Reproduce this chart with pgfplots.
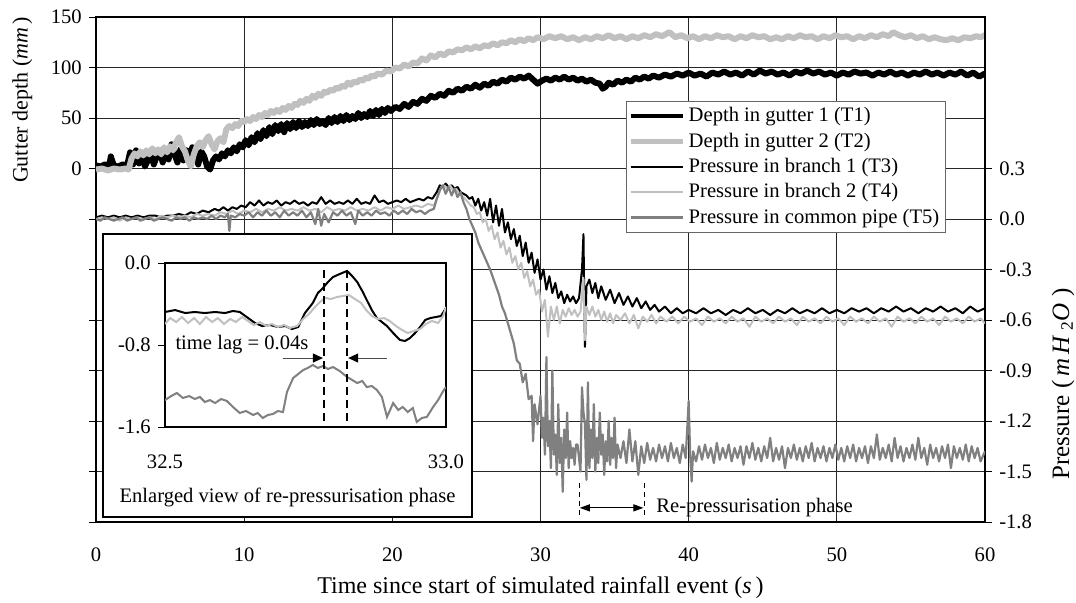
\documentclass[border=0pt]{standalone}
\usepackage{fontspec}
\setmainfont{Liberation Serif}
\usepackage{pgfplots}
\pgfplotsset{compat=1.18}
\usetikzlibrary{arrows.meta}
\definecolor{lgray}{RGB}{192,192,192}
\definecolor{mgray}{RGB}{128,128,128}
\begin{document}
\fontsize{10.3}{12.4}\selectfont
\begin{tikzpicture}[font=\fontsize{10.3}{12.4}\selectfont]
\path[use as bounding box] (-48pt,-40pt) rectangle (490pt,261pt);
% ---------- left axis: gutter depth ----------
\begin{axis}[
  at={(0,0)}, anchor=south west, scale only axis, width=444.5pt, height=252.5pt,
  xmin=0, xmax=60, ymin=-350, ymax=150,
  xtick={0,10,20,30,40,50,60}, xticklabels={0,10,20,30,40,50,60},
  ytick={-350,-300,-250,-200,-150,-100,-50,0,50,100,150},
  yticklabels={,,,,,,,0,50,100,150},
  ytick pos=left, tick align=outside, major tick length=3.5pt,
  xtick style={draw=none}, ytick style={black, line width=0.5pt},
  grid=major, major grid style={black!85, line width=0.5pt},
  axis line style={line width=1pt},
  xticklabel style={yshift=-6pt},
  xlabel={Time since start of simulated rainfall event (\textit{s}\,)},
  ylabel={Gutter depth (\textit{mm}\,)},
  every axis x label/.style={at={(axis description cs:0.5,0)}, yshift=-33pt, anchor=center, font=\fontsize{12}{14}\selectfont},
  every axis y label/.style={at={(axis description cs:-0.083,0.836)}, rotate=90, anchor=center, font=\fontsize{11}{13}\selectfont},
]
\addplot[black, line width=3pt, line join=round] coordinates {
(0,3) (0.3,2) (0.6,4) (0.9,3) (1.0,12) (1.2,3) (1.5,2) (1.8,4) (2.1,3) (2.3,16) (2.5,4) (2.7,18) (2.9,5) (3.1,14) (3.3,2) (3.5,8) (3.7,15) (3.9,4) (4.1,12) (4.3,18) (4.5,6) (4.7,16) (4.9,9) (5.1,24) (5.3,14) (5.5,6) (5.7,19) (5.9,8) (6.1,18) (6.3,10) (6.5,21) (6.7,14) (6.9,4) (7.1,17) (7.3,12) (7.5,2) (7.7,-1) (7.9,8) (8.1,12) (8.3,9) (8.5,15) (8.7,12) (8.9,18) (9.1,15) (9.3,21) (9.5,17) (9.7,24) (9.9,21) (10.1,28) (10.3,23) (10.5,31) (10.7,26) (10.9,35) (11.1,29) (11.3,38) (11.5,32) (11.7,41) (11.9,34) (12.1,43) (12.3,37) (12.5,44) (12.7,36) (12.9,45) (13.1,39) (13.3,46) (13.5,40) (13.7,47) (13.9,41) (14.1,46) (14.3,42) (14.5,48) (14.7,43) (14.9,49) (15.1,44) (15.3,47) (15.5,43) (15.7,50) (15.9,45) (16.1,51) (16.3,46) (16.5,52) (16.7,47) (16.9,53) (17.1,48) (17.3,52) (17.5,49) (17.7,55) (17.9,50) (18.1,54) (18.3,51) (18.5,57) (18.7,52) (18.9,58) (19.1,53) (19.3,59) (19.5,55) (19.7,60) (19.9,57) (20.2,61) (20.5,59) (20.8,64) (21.1,61) (21.4,66) (21.7,64) (22.0,69) (22.3,67) (22.6,72) (22.9,70) (23.2,74) (23.5,72) (23.8,77) (24.1,75) (24.4,79) (24.7,77) (25.0,81) (25.3,79) (25.6,83) (25.9,80) (26.2,84) (26.5,82) (26.8,86) (27.1,84) (27.4,88) (27.7,86) (28.0,90) (28.3,88) (28.6,91) (28.9,89) (29.2,92) (29.5,88) (29.8,84) (30.1,87) (30.4,89) (30.7,87) (31.0,90) (31.3,88) (31.6,91) (31.9,88) (32.2,90) (32.5,87) (32.8,89) (33.1,86) (33.4,88) (33.7,85) (34.0,84) (34.2,79) (34.4,81) (34.6,85) (34.9,83) (35.2,87) (35.5,85) (35.8,88) (36.1,86) (36.4,90) (36.7,88) (37.0,91) (37.3,89) (37.6,92) (38.0,90) (38.4,93) (38.8,91) (39.2,94) (39.6,92) (40.0,95) (40.4,92) (40.8,94) (41.2,91) (41.6,95) (42.0,93) (42.4,96) (42.8,93) (43.2,95) (43.6,92) (44.0,96) (44.4,93) (44.8,97) (45.2,94) (45.6,96) (46.0,93) (46.4,95) (46.8,92) (47.2,96) (47.6,94) (48.0,97) (48.4,94) (48.8,96) (49.2,93) (49.6,95) (50.0,92) (50.4,95) (50.8,93) (51.2,96) (51.6,94) (52.0,95) (52.4,92) (52.8,95) (53.2,93) (53.6,96) (54.0,93) (54.4,95) (54.8,92) (55.2,95) (55.6,93) (56.0,96) (56.4,93) (56.8,95) (57.2,92) (57.6,95) (58.0,93) (58.4,96) (58.8,92) (59.2,95) (59.6,91) (60,94)
};
\addplot[lgray, line width=3pt, line join=round] coordinates {
(0,-1) (0.4,0) (0.8,-2) (1.2,0) (1.6,-1) (2.0,0) (2.2,-1) (2.4,10) (2.6,15) (2.8,12) (3.0,17) (3.2,13) (3.4,18) (3.6,14) (3.8,20) (4.0,15) (4.2,19) (4.4,14) (4.6,21) (4.8,16) (5.0,22) (5.2,18) (5.4,26) (5.6,31) (5.8,22) (6.0,17) (6.2,8) (6.4,2) (6.6,14) (6.8,22) (7.0,26) (7.2,21) (7.4,28) (7.6,32) (7.8,24) (8.0,19) (8.2,27) (8.4,30) (8.6,26) (8.8,39) (9.0,42) (9.2,40) (9.4,44) (9.6,42) (9.8,47) (10.0,46) (10.2,49) (10.4,47) (10.6,51) (10.8,49) (11.0,53) (11.2,51) (11.4,55) (11.6,53) (11.8,57) (12.0,55) (12.2,58) (12.4,56) (12.6,60) (12.8,58) (13.0,62) (13.2,60) (13.4,64) (13.6,63) (13.8,67) (14.0,65) (14.2,69) (14.4,67) (14.6,72) (14.8,70) (15.0,74) (15.2,72) (15.4,76) (15.6,75) (15.8,78) (16.0,77) (16.2,80) (16.4,79) (16.6,82) (16.8,81) (17.0,85) (17.2,83) (17.4,86) (17.6,85) (17.8,88) (18.0,87) (18.2,90) (18.4,89) (18.6,92) (18.8,91) (19.0,94) (19.3,93) (19.6,97) (19.9,96) (20.2,100) (20.5,99) (20.8,103) (21.1,101) (21.4,105) (21.7,104) (22.0,109) (22.3,107) (22.6,112) (22.9,110) (23.2,114) (23.5,112) (23.8,116) (24.1,115) (24.4,118) (24.7,117) (25.0,120) (25.3,118) (25.6,121) (25.9,119) (26.2,122) (26.5,121) (26.8,124) (27.1,122) (27.4,125) (27.7,124) (28.0,127) (28.3,125) (28.6,128) (28.9,126) (29.2,129) (29.5,127) (29.8,130) (30.2,128) (30.6,131) (31.0,129) (31.4,131) (31.8,128) (32.2,130) (32.6,127) (33.0,130) (33.4,128) (33.8,131) (34.2,129) (34.6,132) (35.0,129) (35.4,131) (35.8,128) (36.2,131) (36.6,129) (37.0,132) (37.4,130) (37.8,133) (38.2,131) (38.7,135) (39.1,130) (39.5,132) (39.9,129) (40.3,131) (40.7,128) (41.1,131) (41.5,129) (41.9,132) (42.3,130) (42.7,131) (43.1,128) (43.5,131) (43.9,129) (44.3,132) (44.7,130) (45.1,131) (45.5,128) (45.9,130) (46.3,128) (46.7,131) (47.1,129) (47.5,132) (47.9,130) (48.3,131) (48.7,128) (49.1,131) (49.5,129) (49.9,132) (50.3,130) (50.7,131) (51.1,128) (51.5,131) (51.9,129) (52.3,132) (52.7,130) (53.1,133) (53.5,131) (53.8,135) (54.2,132) (54.6,130) (55.0,132) (55.4,129) (55.8,131) (56.2,128) (56.6,130) (57.0,128) (57.4,127) (57.8,129) (58.2,127) (58.6,130) (59.0,129) (59.4,131) (59.7,130) (60,132)
};
\end{axis}
% ---------- right axis: pressure ----------
\begin{axis}[
  at={(0,0)}, anchor=south west, scale only axis, width=444.5pt, height=252.5pt,
  xmin=0, xmax=60, ymin=-1.8, ymax=1.2,
  axis x line=none, axis y line*=right,
  ytick={-1.8,-1.5,-1.2,-0.9,-0.6,-0.3,0,0.3},
  yticklabels={-1.8,-1.5,-1.2,-0.9,-0.6,-0.3,0.0,0.3},
  tick align=outside, major tick length=3.5pt, ytick style={black, line width=0.5pt},
  axis line style={line width=1pt},
  ylabel={Pressure (\,\textit{m}\,\textit{H}\,\textsubscript{2}\textit{O}\ )},
  every axis y label/.style={at={(axis description cs:1.088,0.273)}, rotate=90, anchor=center, font=\fontsize{12.5}{15}\selectfont},
  legend style={at={(axis description cs:0.596,0.834)}, anchor=north west, draw=black!60,
    line width=0.5pt, fill=white, inner xsep=1pt, inner ysep=1pt, row sep=0pt,
    cells={anchor=west}, font=\fontsize{10.3}{12.4}\selectfont},
  legend image code/.code={\draw[#1] (0pt,0pt) -- (26pt,0pt);},
]
\addlegendimage{black, line width=2pt}
\addlegendentry{Depth in gutter 1 (T1)}
\addlegendimage{lgray, line width=2.2pt}
\addlegendentry{Depth in gutter 2 (T2)}
\addplot[black, line width=1pt, line join=round] coordinates {
(0,0.01) (0.4,0.02) (0.8,0.01) (1.2,0.02) (1.6,0.01) (2.0,0.02) (2.4,0.01) (2.8,0.02) (3.2,0.01) (3.6,0.02) (4.0,0.02) (4.4,0.01) (4.8,0.02) (5.2,0.02) (5.6,0.03) (6.0,0.02) (6.4,0.04) (6.8,0.03) (7.2,0.05) (7.6,0.04) (8.0,0.06) (8.3,0.05) (8.6,0.07) (8.9,0.05) (9.2,0.07) (9.5,0.06) (9.8,0.08) (10.1,0.07) (10.4,0.10) (10.7,0.08) (11.0,0.11) (11.3,0.08) (11.6,0.10) (11.9,0.09) (12.2,0.11) (12.5,0.08) (12.8,0.10) (13.1,0.09) (13.4,0.11) (13.7,0.09) (14.0,0.10) (14.3,0.08) (14.6,0.10) (14.9,0.09) (15.2,0.13) (15.5,0.09) (15.8,0.11) (16.1,0.09) (16.4,0.10) (16.7,0.09) (17.0,0.11) (17.3,0.09) (17.6,0.12) (17.9,0.09) (18.2,0.10) (18.5,0.09) (18.8,0.14) (19.1,0.10) (19.4,0.11) (19.7,0.09) (20.0,0.10) (20.3,0.11) (20.6,0.10) (20.9,0.12) (21.2,0.10) (21.5,0.11) (21.8,0.12) (22.1,0.11) (22.4,0.13) (22.7,0.12) (23.0,0.16) (23.2,0.20) (23.4,0.19) (23.6,0.21) (23.8,0.19) (24.0,0.20) (24.2,0.18) (24.4,0.19) (24.6,0.16) (24.8,0.15) (25.0,0.14) (25.2,0.12) (25.4,0.13) (25.6,0.08) (25.8,0.12) (26.0,0.05) (26.2,0.10) (26.4,0.02) (26.6,0.12) (26.8,-0.02) (27.0,0.08) (27.2,-0.04) (27.4,0.06) (27.6,-0.08) (27.8,-0.02) (28.0,-0.12) (28.2,-0.06) (28.4,-0.16) (28.6,-0.10) (28.8,-0.22) (29.0,-0.14) (29.2,-0.26) (29.4,-0.20) (29.6,-0.32) (29.8,-0.24) (30.0,-0.36) (30.2,-0.30) (30.4,-0.42) (30.6,-0.34) (30.8,-0.44) (31.0,-0.38) (31.2,-0.47) (31.4,-0.43) (31.6,-0.50) (31.8,-0.45) (32.0,-0.49) (32.2,-0.46) (32.4,-0.50) (32.6,-0.47) (32.8,-0.30) (32.9,-0.09) (32.95,-0.45) (33.0,-0.76) (33.1,-0.40) (33.3,-0.36) (33.5,-0.44) (33.7,-0.38) (33.9,-0.47) (34.1,-0.40) (34.4,-0.48) (34.7,-0.42) (35.0,-0.50) (35.3,-0.44) (35.6,-0.51) (35.9,-0.46) (36.2,-0.52) (36.5,-0.47) (36.8,-0.53) (37.1,-0.49) (37.4,-0.54) (37.7,-0.51) (38.0,-0.55) (38.4,-0.52) (38.8,-0.56) (39.2,-0.53) (39.6,-0.56) (40.0,-0.54) (40.5,-0.56) (41.0,-0.53) (41.5,-0.56) (42.0,-0.54) (42.5,-0.57) (43.0,-0.54) (43.5,-0.56) (44.0,-0.53) (44.5,-0.56) (45.0,-0.54) (45.5,-0.57) (46.0,-0.54) (46.5,-0.56) (47.0,-0.53) (47.5,-0.56) (48.0,-0.54) (48.5,-0.56) (49.0,-0.53) (49.5,-0.56) (50.0,-0.54) (50.5,-0.56) (51.0,-0.53) (51.5,-0.55) (52.0,-0.53) (52.5,-0.56) (53.0,-0.53) (53.5,-0.55) (54.0,-0.52) (54.5,-0.55) (55.0,-0.53) (55.5,-0.56) (56.0,-0.53) (56.5,-0.55) (57.0,-0.52) (57.5,-0.55) (58.0,-0.53) (58.5,-0.56) (59.0,-0.52) (59.5,-0.55) (60,-0.53)
};
\addlegendentry{Pressure in branch 1 (T3)}
\addplot[lgray, line width=1pt, line join=round] coordinates {
(0,0.00) (0.4,0.01) (0.8,0.00) (1.2,0.01) (1.6,-0.01) (2.0,0.01) (2.4,0.00) (2.8,0.01) (3.2,0.00) (3.6,0.01) (4.0,0.00) (4.4,0.02) (4.8,0.01) (5.2,0.02) (5.6,0.01) (6.0,0.02) (6.4,0.01) (6.8,0.03) (7.2,0.02) (7.6,0.03) (8.0,0.02) (8.4,0.04) (8.8,0.03) (9.2,0.05) (9.6,0.03) (10.0,0.05) (10.4,0.04) (10.8,0.06) (11.2,0.04) (11.6,0.06) (12.0,0.05) (12.4,0.07) (12.8,0.05) (13.2,0.06) (13.6,0.05) (14.0,0.07) (14.4,0.05) (14.8,0.06) (15.2,0.04) (15.6,0.07) (16.0,0.05) (16.4,0.06) (16.8,0.05) (17.2,0.07) (17.6,0.05) (18.0,0.06) (18.4,0.05) (18.8,0.07) (19.2,0.05) (19.6,0.07) (20.0,0.06) (20.4,0.08) (20.8,0.06) (21.2,0.07) (21.6,0.08) (22.0,0.07) (22.4,0.09) (22.8,0.08) (23.1,0.14) (23.3,0.19) (23.5,0.20) (23.7,0.18) (23.9,0.20) (24.1,0.17) (24.3,0.18) (24.5,0.15) (24.7,0.14) (24.9,0.12) (25.1,0.10) (25.3,0.08) (25.5,0.07) (25.7,0.03) (25.9,0.04) (26.1,-0.02) (26.3,0.00) (26.5,-0.07) (26.7,-0.04) (26.9,-0.12) (27.1,-0.08) (27.3,-0.17) (27.5,-0.13) (27.7,-0.21) (27.9,-0.17) (28.1,-0.26) (28.3,-0.22) (28.5,-0.30) (28.7,-0.26) (28.9,-0.35) (29.1,-0.31) (29.3,-0.40) (29.5,-0.36) (29.7,-0.45) (29.9,-0.42) (30.1,-0.55) (30.3,-0.48) (30.5,-0.70) (30.7,-0.52) (30.9,-0.60) (31.1,-0.52) (31.3,-0.62) (31.5,-0.54) (31.7,-0.58) (31.9,-0.53) (32.1,-0.57) (32.3,-0.54) (32.5,-0.58) (32.7,-0.55) (32.85,-0.40) (32.9,-0.35) (32.95,-0.55) (33.0,-0.72) (33.1,-0.52) (33.3,-0.57) (33.5,-0.52) (33.7,-0.58) (33.9,-0.54) (34.1,-0.60) (34.3,-0.55) (34.5,-0.61) (34.7,-0.56) (34.9,-0.62) (35.1,-0.57) (35.4,-0.60) (35.7,-0.56) (36.0,-0.62) (36.3,-0.57) (36.6,-0.65) (36.9,-0.58) (37.2,-0.61) (37.5,-0.57) (37.8,-0.62) (38.1,-0.58) (38.5,-0.61) (38.9,-0.58) (39.3,-0.62) (39.7,-0.58) (40.1,-0.61) (40.5,-0.59) (40.9,-0.63) (41.3,-0.58) (41.7,-0.61) (42.1,-0.59) (42.5,-0.62) (42.9,-0.58) (43.3,-0.61) (43.7,-0.59) (44.1,-0.64) (44.5,-0.58) (44.9,-0.61) (45.3,-0.59) (45.7,-0.62) (46.1,-0.58) (46.5,-0.61) (46.9,-0.59) (47.3,-0.63) (47.7,-0.58) (48.1,-0.61) (48.5,-0.59) (48.9,-0.62) (49.3,-0.58) (49.7,-0.61) (50.1,-0.59) (50.5,-0.63) (50.9,-0.58) (51.3,-0.61) (51.7,-0.59) (52.1,-0.62) (52.5,-0.58) (52.9,-0.61) (53.3,-0.59) (53.7,-0.64) (54.1,-0.58) (54.5,-0.61) (54.9,-0.59) (55.3,-0.62) (55.7,-0.58) (56.1,-0.61) (56.5,-0.59) (56.9,-0.63) (57.3,-0.58) (57.7,-0.61) (58.1,-0.59) (58.5,-0.62) (58.9,-0.58) (59.3,-0.61) (59.7,-0.59) (60,-0.62)
};
\addlegendentry{Pressure in branch 2 (T4)}
\addplot[mgray, line width=1.1pt, line join=round] coordinates {
(0,0.00) (0.3,-0.01) (0.6,0.01) (0.9,0.00) (1.2,-0.01) (1.5,0.00) (1.8,0.01) (2.1,-0.01) (2.4,0.00) (2.7,0.01) (3.0,-0.01) (3.3,0.00) (3.6,0.01) (3.9,-0.01) (4.2,0.00) (4.5,0.01) (4.8,0.00) (5.1,-0.01) (5.4,0.01) (5.7,0.00) (6.0,0.01) (6.3,-0.01) (6.6,0.01) (6.9,0.00) (7.2,0.01) (7.5,0.00) (7.8,0.02) (8.1,0.00) (8.4,0.02) (8.7,0.01) (8.9,0.03) (9.0,-0.07) (9.1,0.02) (9.4,0.01) (9.7,0.03) (10.0,0.02) (10.3,0.04) (10.6,0.01) (10.9,0.04) (11.2,0.02) (11.5,0.05) (11.8,0.02) (12.1,0.04) (12.4,0.01) (12.7,0.05) (13.0,0.02) (13.3,0.04) (13.6,0.02) (13.9,0.05) (14.2,0.01) (14.5,0.04) (14.8,-0.03) (15.0,0.06) (15.2,-0.04) (15.4,0.03) (15.7,-0.02) (16.0,0.04) (16.3,0.02) (16.6,0.05) (16.9,0.02) (17.2,0.04) (17.5,-0.03) (17.7,0.05) (18.0,0.02) (18.3,0.04) (18.6,0.02) (18.9,0.05) (19.2,0.03) (19.5,0.04) (19.8,0.02) (20.1,0.05) (20.4,0.03) (20.7,0.05) (21.0,0.03) (21.3,0.06) (21.6,0.04) (21.9,0.05) (22.2,0.03) (22.5,0.05) (22.8,0.06) (23.0,0.12) (23.2,0.17) (23.4,0.20) (23.6,0.15) (23.8,0.19) (24.0,0.14) (24.2,0.18) (24.4,0.13) (24.6,0.16) (24.8,0.10) (25.0,0.06) (25.2,0.00) (25.4,-0.04) (25.6,-0.08) (25.8,-0.14) (26.0,-0.18) (26.2,-0.22) (26.4,-0.26) (26.6,-0.30) (26.8,-0.35) (27.0,-0.40) (27.2,-0.45) (27.4,-0.52) (27.6,-0.56) (27.8,-0.62) (28.0,-0.68) (28.2,-0.74) (28.4,-0.84) (28.6,-0.86) (28.8,-0.97) (29.0,-0.92) (29.2,-1.07) (29.4,-1.05) (29.5,-1.32) (29.6,-1.10) (29.8,-1.22) (30.0,-1.05) (30.1,-1.30) (30.2,-1.18) (30.3,-1.40) (30.4,-0.82) (30.5,-1.35) (30.6,-1.20) (30.7,-1.48) (30.8,-0.90) (30.9,-1.40) (31.0,-1.28) (31.1,-1.52) (31.2,-1.10) (31.3,-1.45) (31.4,-1.30) (31.5,-1.62) (31.6,-1.25) (31.7,-1.42) (31.8,-1.15) (31.9,-1.48) (32.0,-1.32) (32.1,-1.42) (32.2,-1.36) (32.3,-1.46) (32.4,-1.34) (32.5,-1.34) (32.6,-1.42) (32.7,-1.50) (32.8,-1.00) (32.9,-1.15) (33.0,-1.22) (33.1,-1.55) (33.2,-0.97) (33.3,-1.48) (33.4,-1.25) (33.5,-1.42) (33.6,-1.10) (33.7,-1.50) (33.8,-1.30) (33.9,-1.45) (34.0,-1.15) (34.1,-1.40) (34.2,-1.28) (34.3,-1.52) (34.4,-1.32) (34.5,-1.44) (34.6,-1.20) (34.7,-1.46) (34.8,-1.30) (34.9,-1.42) (35.0,-1.18) (35.1,-1.48) (35.2,-1.34) (35.4,-1.42) (35.6,-1.32) (35.8,-1.45) (36.0,-1.25) (36.2,-1.44) (36.4,-1.32) (36.6,-1.52) (36.8,-1.35) (37.0,-1.45) (37.2,-1.33) (37.4,-1.43) (37.6,-1.36) (37.8,-1.44) (38.0,-1.34) (38.2,-1.42) (38.4,-1.35) (38.6,-1.44) (38.8,-1.33) (39.0,-1.42) (39.2,-1.36) (39.4,-1.45) (39.6,-1.34) (39.8,-1.42) (40.0,-1.08) (40.1,-1.40) (40.2,-1.56) (40.3,-1.38) (40.5,-1.44) (40.7,-1.35) (40.9,-1.43) (41.1,-1.34) (41.3,-1.42) (41.5,-1.36) (41.7,-1.45) (41.9,-1.33) (42.1,-1.43) (42.3,-1.36) (42.5,-1.42) (42.7,-1.34) (42.9,-1.44) (43.1,-1.36) (43.3,-1.42) (43.5,-1.35) (43.7,-1.46) (43.9,-1.35) (44.1,-1.42) (44.3,-1.33) (44.5,-1.43) (44.7,-1.36) (44.9,-1.44) (45.1,-1.35) (45.3,-1.42) (45.5,-1.30) (45.7,-1.44) (45.9,-1.36) (46.1,-1.43) (46.3,-1.35) (46.5,-1.48) (46.7,-1.36) (46.9,-1.42) (47.1,-1.34) (47.3,-1.43) (47.5,-1.36) (47.7,-1.44) (47.9,-1.35) (48.1,-1.42) (48.3,-1.33) (48.5,-1.44) (48.7,-1.36) (48.9,-1.42) (49.1,-1.35) (49.3,-1.44) (49.5,-1.36) (49.7,-1.42) (49.9,-1.34) (50.1,-1.43) (50.3,-1.36) (50.5,-1.44) (50.7,-1.35) (50.9,-1.42) (51.1,-1.34) (51.3,-1.44) (51.5,-1.36) (51.7,-1.42) (51.9,-1.35) (52.1,-1.45) (52.3,-1.35) (52.5,-1.42) (52.7,-1.28) (52.9,-1.43) (53.1,-1.36) (53.3,-1.42) (53.5,-1.34) (53.7,-1.44) (53.9,-1.30) (54.1,-1.42) (54.3,-1.35) (54.5,-1.44) (54.7,-1.36) (54.9,-1.42) (55.1,-1.34) (55.3,-1.43) (55.5,-1.30) (55.7,-1.42) (55.9,-1.36) (56.1,-1.46) (56.3,-1.34) (56.5,-1.42) (56.7,-1.36) (56.9,-1.44) (57.1,-1.35) (57.3,-1.42) (57.5,-1.34) (57.7,-1.48) (57.9,-1.35) (58.1,-1.42) (58.3,-1.36) (58.5,-1.43) (58.7,-1.34) (58.9,-1.44) (59.1,-1.35) (59.3,-1.42) (59.5,-1.36) (59.7,-1.44) (60,-1.38)
};
\addlegendentry{Pressure in common pipe (T5)}
% re-pressurisation annotation
\draw[black, line width=0.5pt, dash pattern=on 2.5pt off 2pt] (axis cs:32.6,-1.567) -- (axis cs:32.6,-1.77);
\draw[black, line width=0.5pt, dash pattern=on 2.5pt off 2pt] (axis cs:37.0,-1.567) -- (axis cs:37.0,-1.77);
\draw[black, line width=0.5pt, {Triangle[length=5pt,width=3.5pt]}-{Triangle[length=5pt,width=3.5pt]}] (axis cs:32.65,-1.716) -- (axis cs:36.95,-1.716);
\node[anchor=west, inner sep=0pt] at (axis cs:37.8,-1.716) {Re-pressurisation phase};
\end{axis}
% ---------- inset ----------
\draw[line width=1pt, fill=white] (3.5pt,2.5pt) rectangle (188pt,144pt);
\node at (95.75pt,12.5pt) {Enlarged view of re-pressurisation phase};
\begin{axis}[
  at={(34.5pt,47.5pt)}, anchor=south west, scale only axis, width=140.5pt, height=82pt,
  xmin=32.5, xmax=33.0, ymin=-1.6, ymax=0,
  xtick={32.5,33.0}, xticklabels={32.5,33.0},
  ytick={-1.6,-0.8,0}, yticklabels={-1.6,-0.8,0.0},
  ytick pos=left, tick align=outside, major tick length=3.5pt,
  xtick style={draw=none}, ytick style={black, line width=0.5pt},
  axis line style={line width=1pt},
  xticklabel style={yshift=-7pt},
]
\addplot[black, line width=1pt] coordinates {
(32.500,-0.478) (32.518,-0.459) (32.536,-0.488) (32.553,-0.478) (32.571,-0.488) (32.589,-0.478) (32.607,-0.488) (32.621,-0.468) (32.633,-0.478) (32.648,-0.537) (32.660,-0.585) (32.673,-0.615) (32.687,-0.605) (32.701,-0.624) (32.714,-0.615) (32.726,-0.644) (32.737,-0.624) (32.749,-0.488) (32.763,-0.390) (32.772,-0.293) (32.781,-0.244) (32.790,-0.185) (32.799,-0.137) (32.811,-0.107) (32.824,-0.078) (32.833,-0.127) (32.842,-0.185) (32.851,-0.273) (32.859,-0.361) (32.868,-0.459) (32.877,-0.537) (32.886,-0.576) (32.895,-0.615) (32.906,-0.683) (32.918,-0.751) (32.927,-0.761) (32.936,-0.732) (32.945,-0.683) (32.954,-0.624) (32.963,-0.556) (32.972,-0.537) (32.982,-0.527) (32.991,-0.517) (33.000,-0.439)
};
\addplot[lgray, line width=1pt] coordinates {
(32.500,-0.595) (32.509,-0.537) (32.520,-0.576) (32.530,-0.527) (32.541,-0.585) (32.552,-0.537) (32.562,-0.595) (32.573,-0.527) (32.584,-0.576) (32.594,-0.537) (32.605,-0.595) (32.616,-0.546) (32.626,-0.576) (32.637,-0.527) (32.648,-0.566) (32.658,-0.605) (32.669,-0.576) (32.680,-0.615) (32.690,-0.595) (32.701,-0.624) (32.712,-0.605) (32.722,-0.634) (32.735,-0.615) (32.746,-0.546) (32.756,-0.498) (32.767,-0.429) (32.776,-0.380) (32.785,-0.341) (32.795,-0.351) (32.806,-0.332) (32.817,-0.322) (32.827,-0.312) (32.838,-0.351) (32.849,-0.390) (32.858,-0.459) (32.868,-0.517) (32.879,-0.546) (32.890,-0.537) (32.900,-0.566) (32.911,-0.615) (32.922,-0.654) (32.932,-0.683) (32.943,-0.663) (32.954,-0.644) (32.964,-0.595) (32.975,-0.566) (32.986,-0.585) (32.995,-0.517) (33.000,-0.429)
};
\addplot[mgray, line width=1pt] coordinates {
(32.500,-1.337) (32.511,-1.298) (32.521,-1.268) (32.532,-1.317) (32.543,-1.298) (32.553,-1.327) (32.562,-1.307) (32.571,-1.356) (32.580,-1.337) (32.589,-1.366) (32.600,-1.327) (32.610,-1.346) (32.621,-1.405) (32.633,-1.463) (32.644,-1.444) (32.657,-1.483) (32.665,-1.463) (32.674,-1.512) (32.683,-1.483) (32.692,-1.473) (32.701,-1.444) (32.710,-1.454) (32.717,-1.259) (32.728,-1.122) (32.737,-1.083) (32.746,-1.044) (32.754,-1.024) (32.763,-0.995) (32.772,-1.024) (32.781,-1.005) (32.790,-1.034) (32.799,-1.015) (32.811,-1.054) (32.824,-1.112) (32.833,-1.141) (32.842,-1.171) (32.851,-1.151) (32.859,-1.210) (32.868,-1.200) (32.877,-1.239) (32.886,-1.307) (32.895,-1.502) (32.906,-1.366) (32.915,-1.434) (32.923,-1.405) (32.932,-1.454) (32.941,-1.415) (32.948,-1.551) (32.957,-1.512) (32.966,-1.502) (32.977,-1.405) (32.986,-1.337) (32.995,-1.249) (33.000,-1.210)
};
\draw[black, line width=1pt, dash pattern=on 4pt off 2.5pt] (axis cs:32.783,-0.07) -- (axis cs:32.783,-1.6);
\draw[black, line width=1pt, dash pattern=on 4pt off 2.5pt] (axis cs:32.824,-0.07) -- (axis cs:32.824,-1.6);
\draw[black!70, line width=0.5pt, -{Triangle[length=5pt,width=4.5pt,fill=black,color=black]}] (axis cs:32.71,-0.927) -- (axis cs:32.781,-0.927);
\draw[black!70, line width=0.5pt, -{Triangle[length=5pt,width=4.5pt,fill=black,color=black]}] (axis cs:32.895,-0.927) -- (axis cs:32.826,-0.927);
\node[anchor=west, inner sep=0pt] at (axis cs:32.518,-0.8) {time lag = 0.04s};
\end{axis}
\end{tikzpicture}
\end{document}
